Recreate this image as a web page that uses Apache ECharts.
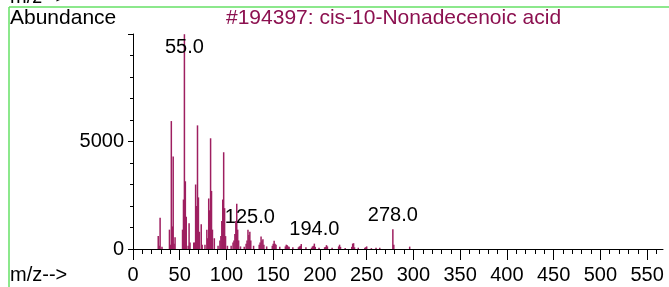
<!DOCTYPE html>
<html>
<head>
<meta charset="utf-8">
<script src="https://cdn.jsdelivr.net/npm/echarts@6/dist/echarts.min.js"></script>
<style>
  html, body { margin: 0; padding: 0; background: #fff; }
  #chart { width: 669px; height: 287px; }
</style>
</head>
<body>
<div id="chart"></div>
<script>
// m/z values and abundances
const mz = [27, 28, 29, 31, 39, 40, 41, 42, 43, 44, 45, 53, 54, 55, 56, 57, 59, 60, 61,
  65, 66, 67, 68, 69, 70, 71, 73, 74, 77, 79, 80, 81, 82, 83, 84, 85, 87, 91, 93, 94,
  95, 96, 97, 98, 99, 101, 105, 107, 108, 109, 110, 111, 112, 113, 115, 119, 121, 122,
  123, 124, 125, 126, 129, 135, 136, 137, 138, 139, 140, 143, 149, 150, 151, 152, 153,
  157, 163, 164, 165, 166, 167, 171, 177, 178, 179, 180, 185, 191, 192, 193, 194, 195,
  199, 205, 206, 207, 208, 213, 220, 221, 222, 227, 234, 235, 236, 237, 241, 248, 249,
  250, 255, 260, 264, 278, 279, 296]
const abundance = [600, 150, 1450, 100, 900, 200, 5950, 1050, 4300, 250, 550, 900, 2300, 9990, 3150, 1500, 150, 1200, 300,
  300, 300, 3000, 2000, 5750, 2400, 800, 1150, 200, 200, 900, 500, 2350, 1800, 5150, 2700, 900, 500, 150, 400, 600,
  1300, 2300, 4500, 1900, 600, 150, 150, 300, 400, 700, 1300, 2100, 900, 400, 120, 100, 250, 400,
  900, 650, 800, 400, 150, 200, 300, 580, 400, 450, 200, 120, 150, 250, 380, 250, 200,
  100, 120, 200, 180, 120, 100, 80, 80, 120, 150, 230, 80, 60, 120, 150, 250, 100,
  60, 80, 100, 180, 120, 60, 120, 200, 100, 50, 100, 250, 270, 80, 60, 60, 80,
  120, 40, 60, 60, 920, 200, 110]
const labeledPeaks = [55, 125, 194, 278]
const xTickLabels = [0, 50, 100, 150, 200, 250, 300, 350, 400, 450, 500, 550]

const FONT = 'Liberation Sans, Arial, sans-serif'
const barColor = '#9e1f60'

const chart = echarts.init(document.getElementById('chart'))

const minorTicks = []
for (let v = 0; v <= 560; v += 10) minorTicks.push(v)

const barData = mz.map((m, i) => {
  const item = { value: [m, abundance[i]] }
  if (labeledPeaks.includes(m)) {
    item.label = {
      show: true,
      position: m === 55 ? 'insideTop' : 'top',
      distance: m === 55 ? 3 : 4,
      formatter: m.toFixed(1),
      color: '#000',
      fontSize: 20,
      fontFamily: FONT
    }
  }
  return item
})

const option = {
  animation: false,
  grid: { left: 133, right: 6, top: 34, bottom: 38 },
  xAxis: [
    {
      type: 'value', min: 0, max: 567,
      axisLine: { show: true, lineStyle: { color: '#000', width: 1 } },
      axisTick: { show: true, length: 5, customValues: minorTicks, lineStyle: { color: '#000' } },
      axisLabel: { show: false },
      splitLine: { show: false }
    },
    {
      type: 'value', min: 0, max: 567, position: 'bottom',
      axisLine: { show: false },
      axisTick: { show: true, length: 11, customValues: xTickLabels, lineStyle: { color: '#000' } },
      axisLabel: {
        customValues: xTickLabels, margin: 16,
        color: '#000', fontSize: 20, fontFamily: FONT
      },
      splitLine: { show: false }
    }
  ],
  yAxis: {
    type: 'value', min: 0, max: 10000, interval: 5000,
    axisLine: { show: true, lineStyle: { color: '#000', width: 1 } },
    axisTick: { show: true, length: 5, lineStyle: { color: '#000' } },
    minorTick: { show: true, splitNumber: 5, length: 3, lineStyle: { color: '#000' } },
    axisLabel: {
      showMaxLabel: false, margin: 9, color: '#000', fontSize: 20, fontFamily: FONT,
      formatter: v => String(v)
    },
    splitLine: { show: false }
  },
  series: [{
    type: 'bar',
    xAxisIndex: 0,
    barWidth: 1.5,
    itemStyle: { color: barColor },
    data: barData
  }],
  graphic: [
    { type: 'line', shape: { x1: 9, y1: 7, x2: 669, y2: 7 }, style: { stroke: '#66e066', lineWidth: 1.5 } },
    { type: 'line', shape: { x1: 9, y1: 7, x2: 9, y2: 287 }, style: { stroke: '#66e066', lineWidth: 1.5 } },
    { type: 'text', left: 10, top: -13, style: { text: 'm/z-->', font: '20px ' + FONT, fill: '#000' } },
    { type: 'text', left: 10, top: 8, style: { text: 'Abundance', font: '21px ' + FONT, fill: '#000' } },
    { type: 'text', left: 226, top: 8, style: { text: '#194397: cis-10-Nonadecenoic acid', font: '21px ' + FONT, fill: '#8c1150' } },
    { type: 'text', left: 10, top: 265, style: { text: 'm/z-->', font: '20px ' + FONT, fill: '#000' } }
  ]
}

chart.setOption(option)
</script>
</body>
</html>
